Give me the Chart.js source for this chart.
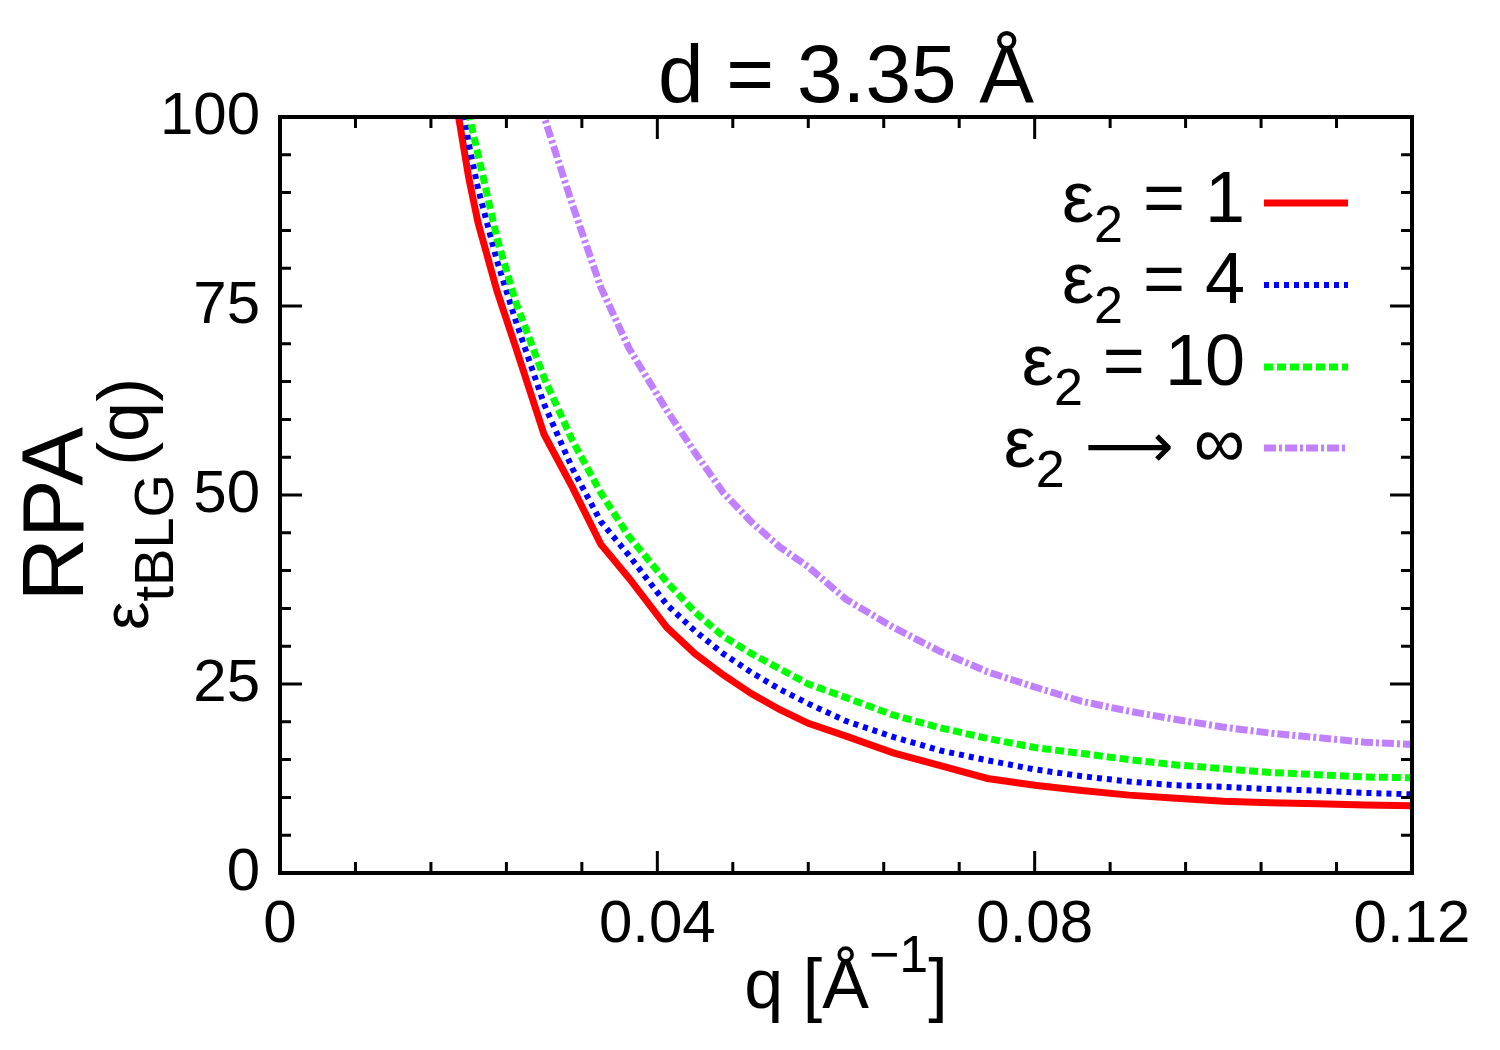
<!DOCTYPE html>
<html>
<head>
    <title>tBLG dielectric function</title>
    <script src="https://cdn.jsdelivr.net/npm/chart.js"></script>
    <style>
        body {
            margin: 0;
            background: white;
        }
        .chart-box {
            position: relative;
            width: 1500px;
            height: 1050px;
        }
    </style>
</head>
<body>
    <div class="chart-box">
        <canvas id="epsChart"></canvas>
    </div>

    <script>
        // values
        const qValues = [0.018, 0.019, 0.020, 0.021, 0.023, 0.025, 0.028, 0.031, 0.034, 0.037,
                         0.041, 0.044, 0.047, 0.050, 0.053, 0.056, 0.060, 0.065, 0.070, 0.075,
                         0.080, 0.085, 0.090, 0.095, 0.100, 0.105, 0.110, 0.115, 0.120];
        const eps2_1   = [106, 99.5, 92, 86, 77, 69.5, 58, 51, 43.5, 39,
                          32.5, 29, 26.2, 23.7, 21.6, 19.8, 18.1, 15.9, 14.2, 12.5,
                          11.6, 10.9, 10.3, 9.9, 9.5, 9.3, 9.15, 9.0, 8.9];
        const eps2_4   = [112, 105, 96.5, 90.5, 81, 73, 62, 53.5, 46.5, 42,
                          35.5, 32, 29, 26.5, 24.3, 22.4, 20.1, 18, 16.2, 14.9,
                          13.7, 12.8, 12.1, 11.6, 11.4, 11.1, 10.9, 10.6, 10.4];
        const eps2_10  = [116, 108, 100.5, 95, 84, 75.5, 65.5, 57.2, 50.3, 44.5,
                          38.5, 34.5, 31.3, 29, 27, 25, 23.2, 20.9, 19.2, 17.8,
                          16.6, 15.8, 15, 14.3, 13.8, 13.3, 13.0, 12.7, 12.6];
        const eps2_inf = [null, null, null, null, null, 106, 100, 88.4, 77.5, 69.4,
                          61.2, 55.6, 50.3, 46.4, 43.1, 40.5, 36.2, 32.5, 29.3, 26.6,
                          24.6, 22.7, 21.4, 20.3, 19.3, 18.5, 17.9, 17.3, 17.0];

        const legendTails = [' = 1', ' = 4', ' = 10', ' \u27F6 \u221E'];
        const xTicks = [0, 0.04, 0.08, 0.12];
        const yTicks = [0, 25, 50, 75, 100];

        const FONT = '"Liberation Sans", Arial, Helvetica, sans-serif';
        const ARROW_FONT = '"DejaVu Sans", sans-serif';

        function toPoints(ys) {
            return qValues.map((q, i) => ({ x: q, y: ys[i] }));
        }

        // split a legend tail so the arrow gets its own font
        function tailRuns(text) {
            return text.split(/(\u27F6)/).filter(s => s.length).map(s => ({
                text: s,
                font: s === '\u27F6' ? '62px ' + ARROW_FONT : '72px ' + FONT
            }));
        }

        // box, inward ticks, labels and legend in gnuplot style
        const gnuplotFrame = {
            id: 'gnuplotFrame',
            afterDatasetsDraw(chart) {
                const ctx = chart.ctx;
                const a = chart.chartArea;
                const xs = chart.scales.x;
                const ys = chart.scales.y;

                ctx.save();
                ctx.strokeStyle = '#000';
                ctx.fillStyle = '#000';

                // ticks
                ctx.lineWidth = 3;
                ctx.beginPath();
                for (let i = 0; i <= 15; i++) {
                    const px = xs.getPixelForValue(i * 0.008);
                    const len = (i % 5 === 0) ? 22 : 11;
                    ctx.moveTo(px, a.bottom); ctx.lineTo(px, a.bottom - len);
                    ctx.moveTo(px, a.top); ctx.lineTo(px, a.top + len);
                }
                for (let i = 0; i <= 20; i++) {
                    const py = ys.getPixelForValue(i * 5);
                    const len = (i % 5 === 0) ? 22 : 11;
                    ctx.moveTo(a.left, py); ctx.lineTo(a.left + len, py);
                    ctx.moveTo(a.right, py); ctx.lineTo(a.right - len, py);
                }
                ctx.stroke();

                // box
                ctx.lineWidth = 4;
                ctx.strokeRect(a.left, a.top, a.right - a.left, a.bottom - a.top);

                // title
                ctx.textAlign = 'center';
                ctx.textBaseline = 'alphabetic';
                ctx.font = '82px ' + FONT;
                ctx.fillText('d = 3.35 \u00C5', (a.left + a.right) / 2, 102);

                // x axis title: q [Å^-1]
                ctx.textAlign = 'left';
                const mainF = '70px ' + FONT, supF = '52px ' + FONT;
                ctx.font = mainF; const w1 = ctx.measureText('q [\u00C5').width;
                ctx.font = supF;  const w2 = ctx.measureText('\u22121').width;
                ctx.font = mainF; const w3 = ctx.measureText(']').width;
                let xx = (a.left + a.right) / 2 - (w1 + w2 + w3) / 2;
                ctx.font = mainF; ctx.fillText('q [\u00C5', xx, 1008); xx += w1;
                ctx.font = supF;  ctx.fillText('\u22121', xx, 972); xx += w2;
                ctx.font = mainF; ctx.fillText(']', xx, 1008);

                // y axis title: eps^RPA_tBLG (q), rotated
                ctx.save();
                ctx.translate(148, 630);
                ctx.rotate(-Math.PI / 2);
                ctx.font = '64px ' + FONT;
                ctx.fillText('\u03B5', 0, 0);
                const we = ctx.measureText('\u03B5').width;
                ctx.font = '88px ' + FONT;
                ctx.fillText('RPA', we, -65);
                ctx.font = '56px ' + FONT;
                ctx.fillText('tBLG', we, 25);
                const ws = ctx.measureText('tBLG').width;
                ctx.font = '72px ' + FONT;
                ctx.fillText('(q)', we + ws + 8, 0);
                ctx.restore();

                // legend
                const rowBase = [222, 303, 385, 467];
                const rowLine = [203, 285, 367, 448];
                chart.data.datasets.forEach((ds, i) => {
                    const bigF = '72px ' + FONT, subF = '52px ' + FONT;
                    const runs = tailRuns(legendTails[i]);
                    ctx.font = bigF; const we2 = ctx.measureText('\u03B5').width;
                    ctx.font = subF; const w2s = ctx.measureText('2').width;
                    let wt = 0;
                    runs.forEach(r => { ctx.font = r.font; r.w = ctx.measureText(r.text).width; wt += r.w; });
                    let lx = 1245 - (we2 + w2s + wt);
                    ctx.fillStyle = '#000';
                    ctx.font = bigF; ctx.fillText('\u03B5', lx, rowBase[i]); lx += we2;
                    ctx.font = subF; ctx.fillText('2', lx, rowBase[i] + 20); lx += w2s;
                    runs.forEach(r => { ctx.font = r.font; ctx.fillText(r.text, lx, rowBase[i]); lx += r.w; });

                    ctx.save();
                    ctx.strokeStyle = ds.borderColor;
                    ctx.lineWidth = ds.borderWidth;
                    ctx.setLineDash(ds.borderDash || []);
                    ctx.beginPath();
                    ctx.moveTo(1264, rowLine[i]);
                    ctx.lineTo(1348, rowLine[i]);
                    ctx.stroke();
                    ctx.restore();
                });

                ctx.restore();
            }
        };

        const ctx = document.getElementById('epsChart').getContext('2d');
        new Chart(ctx, {
            type: 'line',
            data: {
                datasets: [
                    { label: 'eps2 = 1', data: toPoints(eps2_1), borderColor: '#ff0000',
                      borderWidth: 7, borderDash: [], order: 4 },
                    { label: 'eps2 = 4', data: toPoints(eps2_4), borderColor: '#0000ff',
                      borderWidth: 6, borderDash: [5, 5], order: 3 },
                    { label: 'eps2 = 10', data: toPoints(eps2_10), borderColor: '#00ff00',
                      borderWidth: 7, borderDash: [9, 4], order: 2 },
                    { label: 'eps2 -> inf', data: toPoints(eps2_inf), borderColor: '#c080ff',
                      borderWidth: 7, borderDash: [12, 3, 3, 3], order: 1 }
                ]
            },
            options: {
                responsive: true,
                maintainAspectRatio: false,
                animation: false,
                elements: {
                    point: { radius: 0 },
                    line: { tension: 0, fill: false, borderCapStyle: 'butt' }
                },
                layout: {
                    padding: { top: 117, right: 88, left: 0, bottom: 0 }
                },
                plugins: {
                    legend: { display: false },
                    tooltip: { enabled: false }
                },
                scales: {
                    x: {
                        type: 'linear',
                        min: 0,
                        max: 0.12,
                        grid: { display: false, drawTicks: false },
                        border: { display: false },
                        afterBuildTicks: s => { s.ticks = xTicks.map(v => ({ value: v })); },
                        afterFit: s => { s.height = 177; },
                        ticks: {
                            autoSkip: false,
                            maxRotation: 0,
                            padding: 16,
                            color: '#000',
                            font: { size: 60, family: FONT },
                            callback: v => v === 0 ? '0' : v.toFixed(2)
                        }
                    },
                    y: {
                        min: 0,
                        max: 100,
                        grid: { display: false, drawTicks: false },
                        border: { display: false },
                        afterBuildTicks: s => { s.ticks = yTicks.map(v => ({ value: v })); },
                        afterFit: s => { s.width = 280; },
                        ticks: {
                            padding: 20,
                            color: '#000',
                            font: { size: 60, family: FONT }
                        }
                    }
                }
            },
            plugins: [gnuplotFrame]
        });
    </script>
</body>
</html>
